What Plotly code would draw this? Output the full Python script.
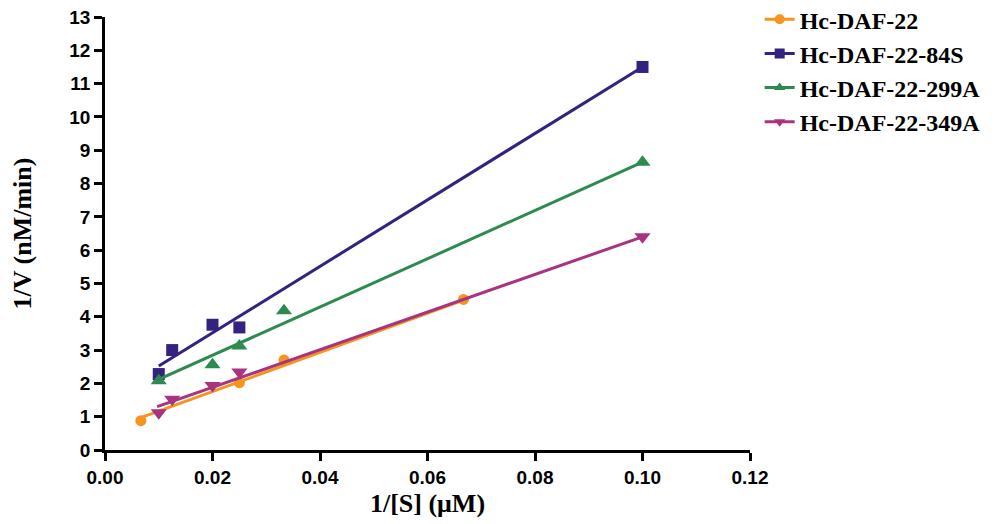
import plotly.graph_objects as go

# 1/[S] (uM) and 1/V values
names = ['Hc-DAF-22', 'Hc-DAF-22-84S', 'Hc-DAF-22-299A', 'Hc-DAF-22-349A']

x_wt = [0.00667, 0.025, 0.0333, 0.0667]
y_wt = [0.88, 2.02, 2.70, 4.52]

x_84s = [0.01, 0.0125, 0.02, 0.025, 0.1]
y_84s = [2.28, 3.00, 3.76, 3.68, 11.50]

x_299a = [0.01, 0.02, 0.025, 0.0333, 0.1]
y_299a = [2.08, 2.56, 3.12, 4.18, 8.64]

x_349a = [0.01, 0.0125, 0.02, 0.025, 0.1]
y_349a = [1.12, 1.52, 1.94, 2.34, 6.40]

# regression line end points
fit_x_wt = [0.00667, 0.0667]
fit_y_wt = [0.97, 4.50]
fit_x_84s = [0.01, 0.1]
fit_y_84s = [2.52, 11.50]
fit_x_299a = [0.01, 0.1]
fit_y_299a = [2.12, 8.64]
fit_x_349a = [0.0097, 0.1]
fit_y_349a = [1.30, 6.40]

colors = ['#F7941D', '#35217F', '#2E8B4F', '#A8347F']
symbols = ['circle', 'square', 'triangle-up', 'triangle-down']
sizes = [11, 12, 14, 14]

pts = [(x_wt, y_wt), (x_84s, y_84s), (x_299a, y_299a), (x_349a, y_349a)]
fits = [(fit_x_wt, fit_y_wt), (fit_x_84s, fit_y_84s),
        (fit_x_299a, fit_y_299a), (fit_x_349a, fit_y_349a)]

fig = go.Figure()

for i in range(4):
    fig.add_trace(go.Scatter(x=fits[i][0], y=fits[i][1], mode='lines',
                             line=dict(color=colors[i], width=3),
                             showlegend=False, hoverinfo='skip'))
    fig.add_trace(go.Scatter(x=pts[i][0], y=pts[i][1], mode='markers',
                             marker=dict(color=colors[i], symbol=symbols[i], size=sizes[i]),
                             showlegend=False, name=names[i]))
    # legend entry with line + marker
    fig.add_trace(go.Scatter(x=[None], y=[None], mode='lines+markers', name=names[i],
                             line=dict(color=colors[i], width=3),
                             marker=dict(color=colors[i], symbol=symbols[i], size=10),
                             legendgroup=names[i]))

tick_font = dict(family='Liberation Sans, Arial', size=19, color='black', weight='bold')
title_font = dict(family='Liberation Serif, Times New Roman', size=26, color='black', weight='bold')

# the page body adds an 8px offset, so margins are shifted to compensate
fig.update_layout(
    width=1000, height=524,
    margin=dict(l=97, r=258, t=9, b=82, autoexpand=False),
    plot_bgcolor='white', paper_bgcolor='white',
    legend=dict(x=1.015, y=1.046, xanchor='left', yanchor='top',
                font=dict(family='Liberation Serif, Times New Roman', size=24,
                          color='black', weight='bold'),
                tracegroupgap=0, itemwidth=30),
)

fig.update_xaxes(range=[0, 0.12], tickvals=[0, 0.02, 0.04, 0.06, 0.08, 0.10, 0.12],
                 tickformat='.2f', showline=True, linecolor='black', linewidth=2.5,
                 ticks='outside', ticklen=8, tickwidth=2.5, tickcolor='black',
                 showgrid=False, zeroline=False, tickfont=tick_font, automargin=False,
                 ticklabeloverflow='allow',
                 title=dict(text='1/[S] (μM)', font=title_font, standoff=8))
fig.update_yaxes(range=[0, 13], dtick=1, showline=True, linecolor='black', linewidth=2.5,
                 ticks='outside', ticklen=8, tickwidth=2.5, tickcolor='black',
                 showgrid=False, zeroline=False, tickfont=tick_font, automargin=False,
                 ticklabeloverflow='allow',
                 title=dict(text='1/V (nM/min)', font=title_font, standoff=59))

fig.write_html('out.html')
